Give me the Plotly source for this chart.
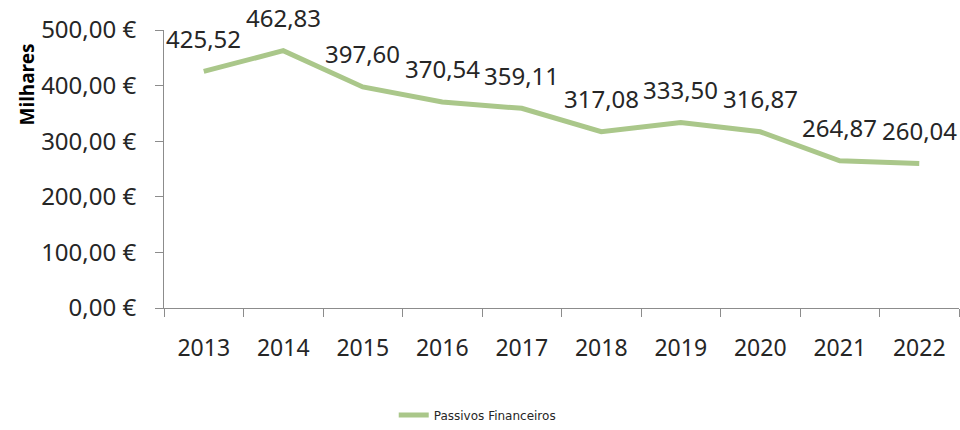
import plotly.graph_objects as go

years = ["2013", "2014", "2015", "2016", "2017", "2018", "2019", "2020", "2021", "2022"]
values = [425.52, 462.83, 397.60, 370.54, 359.11, 317.08, 333.50, 316.87, 264.87, 260.04]
labels = ["425,52", "462,83", "397,60", "370,54", "359,11", "317,08", "333,50", "316,87", "264,87", "260,04"]
y_ticks = [0, 100, 200, 300, 400, 500]
y_tick_text = ["0,00 €", "100,00 €", "200,00 €", "300,00 €", "400,00 €", "500,00 €"]
series_name = "Passivos Financeiros"

LINE = "#AAC78A"
FONT = "Noto Sans"
TXT = "#262626"

fig = go.Figure()
fig.add_trace(go.Scatter(
    x=years, y=values, mode="lines", name=series_name,
    line=dict(color=LINE, width=5), showlegend=True, hoverinfo="skip",
))

for i, (v, lab) in enumerate(zip(values, labels)):
    fig.add_annotation(x=i, y=v, text=lab, showarrow=False, yshift=33,
                       font=dict(family=FONT, size=24, color=TXT))

fig.add_annotation(xref="paper", yref="paper", x=-0.172, y=0.805, text="<b>Milhares</b>",
                   textangle=-90, showarrow=False, xanchor="center", yanchor="middle",
                   font=dict(family=FONT, size=19, color="#000"))

fig.update_layout(
    width=960, height=430,
    margin=dict(l=164, r=1, t=30, b=113),
    paper_bgcolor="white", plot_bgcolor="white",
    showlegend=True,
    legend=dict(orientation="h", x=0.394, xanchor="center", y=-0.385, yanchor="middle",
                font=dict(family="DejaVu Sans", size=12, color=TXT)),
    xaxis=dict(type="category", categoryorder="array", categoryarray=years,
               range=[-0.5, len(years) - 0.5], autorange=False, automargin=False,
               showgrid=False, showline=True, linecolor="#8c8c8c", linewidth=1,
               ticks="outside", ticklen=8, tickcolor="#8c8c8c", tickson="boundaries",
               tickangle=0,
               tickfont=dict(family=FONT, size=23, color=TXT), ticklabelstandoff=19,
               fixedrange=True),
    yaxis=dict(range=[0, 500], tickvals=y_ticks, ticktext=y_tick_text, showgrid=False,
               zeroline=False, showline=True, linecolor="#8c8c8c", linewidth=1,
               automargin=False,
               ticks="outside", ticklen=8, tickcolor="#8c8c8c",
               tickfont=dict(family=FONT, size=24, color=TXT), ticklabelstandoff=14),
)

fig.write_html("out.html", config={"displayModeBar": False},
               post_script="document.body.style.margin='0';document.body.style.overflow='hidden';")
